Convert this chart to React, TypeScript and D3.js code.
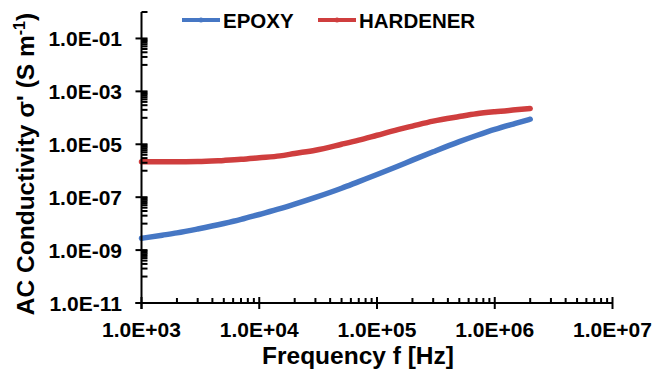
import React from "react";
import * as d3 from "d3";

const frequencies = [1e3, 1.5e3, 2e3, 3e3, 5e3, 7e3, 1e4, 1.5e4, 2e4, 3e4, 5e4, 7e4, 1e5, 1.5e5, 2e5, 3e5, 5e5, 7e5, 1e6, 1.5e6, 2e6];
const epoxy = [2.79e-9, 3.66e-9, 4.47e-9, 6.28e-9, 1.01e-8, 1.44e-8, 2.22e-8, 3.66e-8, 5.43e-8, 9.75e-8, 2.17e-7, 3.89e-7, 7.21e-7, 1.48e-6, 2.51e-6, 5.2e-6, 1.26e-5, 2.15e-5, 3.66e-5, 6.17e-5, 8.85e-5];
const hardener = [2.2e-6, 2.2e-6, 2.2e-6, 2.22e-6, 2.46e-6, 2.69e-6, 3.09e-6, 3.64e-6, 4.49e-6, 5.98e-6, 1.0e-5, 1.43e-5, 2.19e-5, 3.56e-5, 4.88e-5, 7.53e-5, 1.12e-4, 1.42e-4, 1.7e-4, 2.0e-4, 2.24e-4];
const xTicks = [1e3, 1e4, 1e5, 1e6, 1e7];
const xTickLabels = ["1.0E+03", "1.0E+04", "1.0E+05", "1.0E+06", "1.0E+07"];
const yTicks = [1e-11, 1e-9, 1e-7, 1e-5, 1e-3, 1e-1];
const yTickLabels = ["1.0E-11", "1.0E-09", "1.0E-07", "1.0E-05", "1.0E-03", "1.0E-01"];
const seriesNames = ["EPOXY", "HARDENER"];
const seriesColors = ["#4677c4", "#cf3e3e"];

const FONT = "'Liberation Sans', Arial, sans-serif";

export default function App() {
  const W = 653, H = 372;
  const x = d3.scaleLog().domain([1e3, 1e7]).range([141.5, 612.5]);
  const y = d3.scaleLog().domain([1e-11, 1e0]).range([303, 12]);

  const xMinor: number[] = [];
  for (let e = 3; e < 7; e++) for (let k = 2; k <= 9; k++) xMinor.push(k * Math.pow(10, e));
  const yMinor: number[] = [];
  for (let e = -11; e <= 1; e += 2) {
    for (let k = 1; k <= 9; k++) {
      const v = k * Math.pow(10, e - 1);
      if (v >= 1e-11 && v <= 1.0000001) yMinor.push(v);
    }
  }

  const line = d3
    .line<number>()
    .x((_, i) => x(frequencies[i]))
    .y((d) => y(d))
    .curve(d3.curveMonotoneX);

  const series = [epoxy, hardener];
  const x0 = x(1e3);
  const y0 = y(1e-11);

  const legendX = [182, 318];

  return (
    <svg width={W} height={H} style={{ position: "absolute", left: 0, top: 0, background: "#fff" }}>
      <rect width={W} height={H} fill="#fff" />
      {series.map((s, i) => (
        <path key={i} d={line(s) || ""} fill="none" stroke={seriesColors[i]} strokeWidth={5.5} strokeLinecap="round" strokeLinejoin="round" />
      ))}
      <g stroke="#000" strokeWidth={2} fill="none">
        <line x1={x0} x2={x0} y1={y(1e0)} y2={y0 + 6} />
        <line x1={x0 - 6} x2={x(1e7)} y1={y0} y2={y0} />
        {xTicks.map((t, i) => (
          <line key={"xt" + i} x1={x(t)} x2={x(t)} y1={y0 - 6} y2={y0 + 6} />
        ))}
        {xMinor.map((t, i) => (
          <line key={"xm" + i} x1={x(t)} x2={x(t)} y1={y0 - 5} y2={y0} />
        ))}
        {yTicks.map((t, i) => (
          <line key={"yt" + i} x1={x0 - 6} x2={x0 + 6} y1={y(t)} y2={y(t)} />
        ))}
        {yMinor.map((t, i) => (
          <line key={"ym" + i} x1={x0} x2={x0 + 6} y1={y(t)} y2={y(t)} />
        ))}
      </g>
      <g fontFamily={FONT} fontWeight="bold" fontSize={21} fill="#000">
        {xTicks.map((t, i) => (
          <text key={"xl" + i} x={x(t)} y={336.5} textAnchor="middle">
            {xTickLabels[i]}
          </text>
        ))}
        {yTicks.map((t, i) => (
          <text key={"yl" + i} x={122} y={y(t) + 7.5} textAnchor="end">
            {yTickLabels[i]}
          </text>
        ))}
      </g>
      <text x={358} y={364} textAnchor="middle" fontFamily={FONT} fontWeight="bold" fontSize={24.5}>
        Frequency f [Hz]
      </text>
      <text transform="translate(34,164) rotate(-90)" textAnchor="middle" fontFamily={FONT} fontWeight="bold" fontSize={24.5}>
        AC Conductivity σ' (S m
        <tspan fontSize={16} dy={-9}>-1</tspan>
        <tspan dy={9}>)</tspan>
      </text>
      {seriesNames.map((n, i) => (
        <g key={"lg" + i}>
          <line x1={legendX[i]} x2={legendX[i] + 38} y1={20} y2={20} stroke={seriesColors[i]} strokeWidth={4} />
          <circle cx={legendX[i] + 19} cy={20} r={2.5} fill={seriesColors[i]} />
          <text x={legendX[i] + 41} y={27.5} fontFamily={FONT} fontWeight="bold" fontSize={20.5}>
            {n}
          </text>
        </g>
      ))}
    </svg>
  );
}
